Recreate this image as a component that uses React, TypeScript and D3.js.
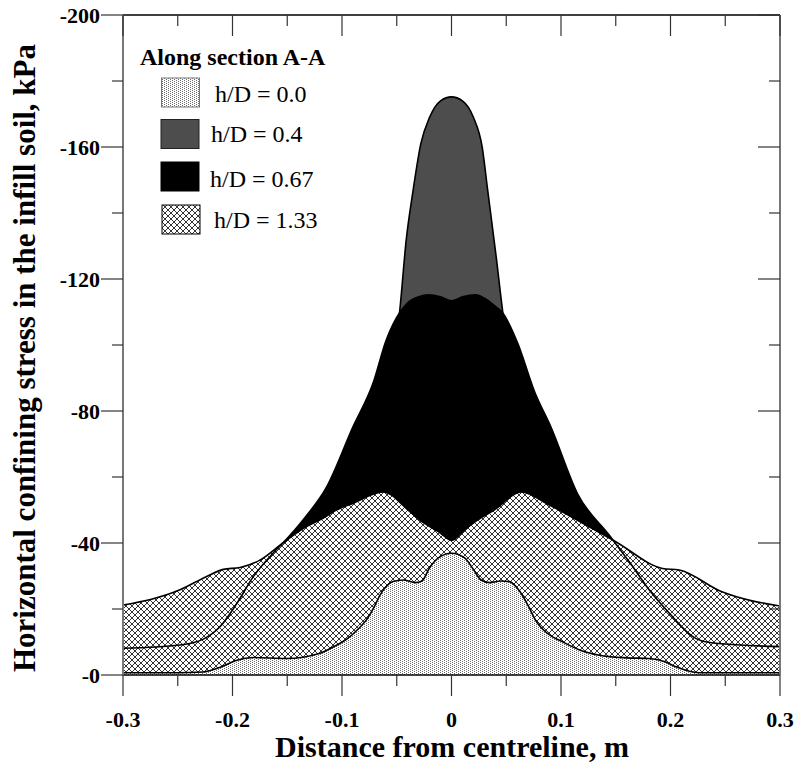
import React from "react";
import * as d3 from "d3";

const xTickValues = [-0.3, -0.2, -0.1, 0, 0.1, 0.2, 0.3];
const xTickLabels = ["-0.3", "-0.2", "-0.1", "0", "0.1", "0.2", "0.3"];
const xMinorValues = [-0.25, -0.15, -0.05, 0.05, 0.15, 0.25];
const yTickValues = [0, -40, -80, -120, -160, -200];
const yTickLabels = ["-0", "-40", "-80", "-120", "-160", "-200"];
const yMinorValues = [-20, -60, -100, -140, -180];

// h/D = 0.4 (grey)
const hd04X = [-0.3, -0.2, -0.15, -0.1, -0.075, -0.06, -0.052, -0.0474, -0.0413, -0.035, -0.028, -0.02, -0.01, 0, 0.01, 0.02, 0.028, 0.033, 0.0407, 0.0468, 0.052, 0.06, 0.075, 0.1, 0.15, 0.2, 0.3];
const hd04Y = [-5, -9, -14, -25, -45, -80, -98, -110, -132, -147, -161, -169, -174, -175.2, -174, -169, -160, -147, -127, -110, -98, -80, -45, -25, -14, -9, -5];

// h/D = 0.67 (black)
const hd067X = [-0.3, -0.248, -0.227, -0.2115, -0.196, -0.181, -0.163, -0.154, -0.1356, -0.114, -0.09, -0.0717, -0.0596, -0.047, -0.04, -0.03, -0.021, -0.01, 0, 0.01, 0.022, 0.03, 0.039, 0.047, 0.0605, 0.0757, 0.091, 0.115, 0.144, 0.163, 0.1805, 0.199, 0.223, 0.241, 0.3];
const hd067Y = [-8.1, -9.1, -10.8, -14.6, -21.7, -29.8, -36.9, -40, -47, -57, -75.2, -88.4, -101.5, -110, -112.8, -114.6, -115.2, -114.6, -113.4, -114.6, -115.2, -114.2, -112, -109.6, -100.5, -86, -75, -55, -42.4, -34, -25.8, -18.7, -11.1, -9.6, -8.6];

// h/D = 1.33 (cross-hatched)
const hd133X = [-0.3, -0.248, -0.224, -0.2085, -0.193, -0.175, -0.154, -0.1325, -0.12, -0.105, -0.09, -0.0626, -0.038, -0.025, -0.012, 0, 0.012, 0.024, 0.039, 0.0636, 0.0894, 0.12, 0.15, 0.1927, 0.208, 0.247, 0.3];
const hd133Y = [-21.2, -25.8, -29.8, -32, -32.6, -34.8, -40, -45, -47, -50, -52, -55.5, -49.5, -46, -43.5, -40.8, -44, -47, -50, -55.5, -51.5, -46, -40.4, -32.3, -31.8, -25.2, -20.9];

// h/D = 0.0 (dotted)
const hd00X = [-0.3, -0.25, -0.227, -0.21, -0.196, -0.181, -0.151, -0.12, -0.108, -0.095, -0.085, -0.077, -0.07, -0.0657, -0.0596, -0.0535, -0.044, -0.033, -0.027, -0.02, -0.012, 0, 0.012, 0.02, 0.027, 0.035, 0.045, 0.053, 0.062, 0.07, 0.077, 0.088, 0.1, 0.117, 0.135, 0.16, 0.18, 0.195, 0.205, 0.226, 0.3];
const hd00Y = [-0.7, -0.7, -0.9, -2.5, -4.5, -5.3, -5, -6.6, -8.5, -11, -14, -17, -21, -24, -26.8, -28.3, -28.8, -28, -28.5, -32.5, -35.5, -36.9, -35.5, -32, -28.8, -28, -28.5, -28.3, -25.5, -21, -16.5, -12.5, -10.3, -7.6, -6, -5.2, -5, -4, -2.5, -0.7, -0.7];

const legendLabels = ["h/D = 0.0", "h/D = 0.4", "h/D = 0.67", "h/D = 1.33"];

const FONT = "'Liberation Serif', 'Times New Roman', Times, serif";

const L = 123, R = 780, T = 15, B = 675;

export default function App() {
  const x = d3.scaleLinear().domain([-0.3, 0.3]).range([L, R]);
  const y = d3.scaleLinear().domain([0, -200]).range([B, T]);

  const zip = (xs: number[], ys: number[]) => xs.map((v, i) => [v, ys[i]] as [number, number]);
  const area = d3.area<[number, number]>()
    .x(d => x(d[0]))
    .y0(y(0))
    .y1(d => y(d[1]))
    .curve(d3.curveMonotoneX);
  const line = d3.line<[number, number]>()
    .x(d => x(d[0]))
    .y(d => y(d[1]))
    .curve(d3.curveMonotoneX);

  const d04 = zip(hd04X, hd04Y);
  const d067 = zip(hd067X, hd067Y);
  const d133 = zip(hd133X, hd133Y);
  const d00 = zip(hd00X, hd00Y);

  const legendSw = [
    { x: 161.5, y: 78, fill: "url(#dots)", stroke: "#777" },
    { x: 161, y: 119.5, fill: "#4d4d4d", stroke: "#222" },
    { x: 161, y: 162, fill: "#000", stroke: "#000" },
    { x: 162, y: 205, fill: "url(#xhatch)", stroke: "#000" },
  ];
  const legendText = [
    { x: 215, y: 102 },
    { x: 211, y: 142 },
    { x: 210, y: 187 },
    { x: 214, y: 228 },
  ];

  return (
    <svg width={795} height={767} style={{ position: "absolute", left: 0, top: 0, background: "#fff" }}>
      <defs>
        <pattern id="dots" patternUnits="userSpaceOnUse" width={4} height={2}>
          <rect width={4} height={2} fill="#fff" />
          <rect x={0} y={0} width={1} height={1} fill="#6a6a6a" />
          <rect x={2} y={1} width={1} height={1} fill="#6a6a6a" />
        </pattern>
        <pattern id="xhatch" patternUnits="userSpaceOnUse" width={6} height={6}>
          <rect width={6} height={6} fill="#fff" />
          <path d="M0,0L6,6M6,0L0,6M-1,5L1,7M5,-1L7,1M-1,1L1,-1M5,7L7,5" stroke="#000" strokeWidth={0.8} />
        </pattern>
        <clipPath id="plotClip">
          <rect x={L} y={T} width={R - L} height={B - T} />
        </clipPath>
      </defs>

      <g clipPath="url(#plotClip)">
        <path d={area(d04) || ""} fill="#4d4d4d" />
        <path d={line(d04) || ""} fill="none" stroke="#000" strokeWidth={1.6} />
        <path d={area(d067) || ""} fill="#000" />
        <path d={area(d133) || ""} fill="url(#xhatch)" />
        <path d={line(d067) || ""} fill="none" stroke="#000" strokeWidth={1.6} />
        <path d={line(d133) || ""} fill="none" stroke="#000" strokeWidth={1.6} />
        <path d={area(d00) || ""} fill="url(#dots)" />
        <path d={line(d00) || ""} fill="none" stroke="#000" strokeWidth={1.6} />
      </g>

      {/* frame */}
      <line x1={L} x2={R} y1={T} y2={T} stroke="#000" strokeWidth={1.5} />
      <line x1={L} x2={R} y1={B} y2={B} stroke="#000" strokeWidth={1.5} />
      <line x1={L} x2={L} y1={T} y2={B} stroke="#777" strokeWidth={2} />
      <line x1={R} x2={R} y1={T} y2={B} stroke="#777" strokeWidth={2} />

      {/* x ticks */}
      {xTickValues.map((v, i) => (
        <g key={"xt" + i}>
          <line x1={x(v)} x2={x(v)} y1={B} y2={B + 21} stroke="#333" strokeWidth={1.2} />
          <line x1={x(v)} x2={x(v)} y1={T} y2={T + 21} stroke="#333" strokeWidth={1.2} />
          <text x={x(v)} y={727} textAnchor="middle" fontFamily={FONT} fontWeight="bold" fontSize={22}>{xTickLabels[i]}</text>
        </g>
      ))}
      {xMinorValues.map((v, i) => (
        <g key={"xm" + i}>
          <line x1={x(v)} x2={x(v)} y1={B} y2={B + 11} stroke="#333" strokeWidth={1.2} />
          <line x1={x(v)} x2={x(v)} y1={T} y2={T + 11} stroke="#333" strokeWidth={1.2} />
        </g>
      ))}

      {/* y ticks */}
      {yTickValues.map((v, i) => (
        <g key={"yt" + i}>
          <line x1={L - 22} x2={L} y1={y(v)} y2={y(v)} stroke="#333" strokeWidth={1.2} />
          <line x1={R - 22} x2={R} y1={y(v)} y2={y(v)} stroke="#333" strokeWidth={1.2} />
          <text x={100} y={y(v) + 7.5} textAnchor="end" fontFamily={FONT} fontWeight="bold" fontSize={22}>{yTickLabels[i]}</text>
        </g>
      ))}
      {yMinorValues.map((v, i) => (
        <g key={"ym" + i}>
          <line x1={L - 11} x2={L} y1={y(v)} y2={y(v)} stroke="#333" strokeWidth={1.2} />
          <line x1={R - 11} x2={R} y1={y(v)} y2={y(v)} stroke="#333" strokeWidth={1.2} />
        </g>
      ))}

      {/* axis titles */}
      <text x={452} y={757} textAnchor="middle" fontFamily={FONT} fontWeight="bold" fontSize={30}>Distance from centreline, m</text>
      <text transform="translate(35,358) rotate(-90)" textAnchor="middle" fontFamily={FONT} fontWeight="bold" fontSize={31}>Horizontal confining stress in the infill soil, kPa</text>

      {/* legend */}
      <text x={140} y={65} fontFamily={FONT} fontWeight="bold" fontSize={24}>Along section A-A</text>
      {legendSw.map((s, i) => (
        <g key={"lg" + i}>
          <rect x={s.x} y={s.y} width={38} height={29} fill={s.fill} stroke={s.stroke} strokeWidth={1} />
          <text x={legendText[i].x} y={legendText[i].y} fontFamily={FONT} fontSize={24}>{legendLabels[i]}</text>
        </g>
      ))}
    </svg>
  );
}
